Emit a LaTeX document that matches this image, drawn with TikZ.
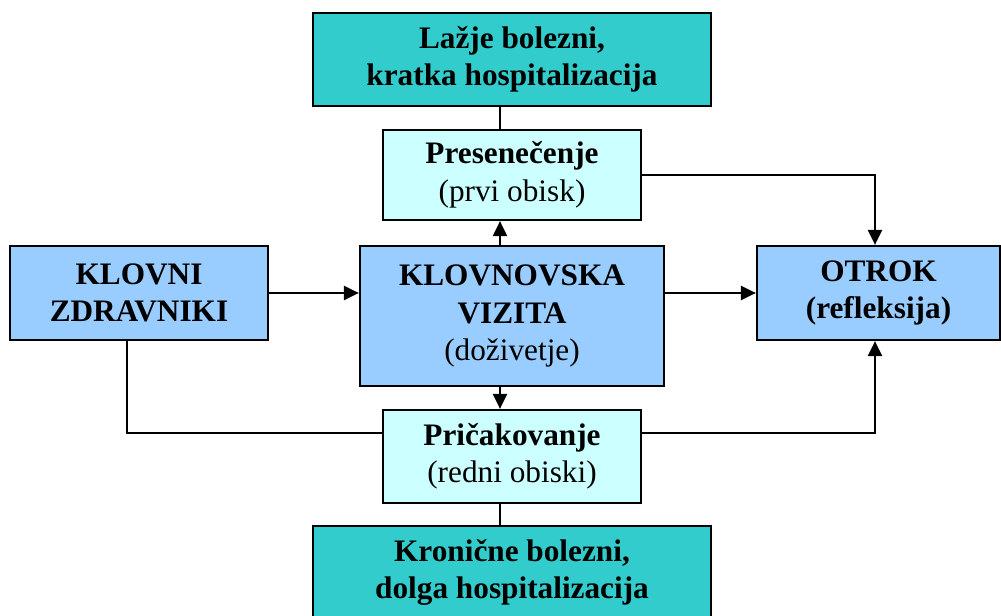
\documentclass[tikz,border=0pt]{standalone}
\usepackage{fontspec}
\setmainfont{Liberation Serif}
\usetikzlibrary{arrows.meta}
\definecolor{skyblue}{HTML}{99CCFF}
\definecolor{paleblue}{HTML}{CCFFFF}
\definecolor{tealbox}{HTML}{33CCCC}
\tikzset{
    box/.style={draw, line width=1.3pt, align=center, inner sep=0pt,
        font=\fontsize{17.8}{21.4}\selectfont},
    mainbox/.style={box, fill=skyblue, font=\fontsize{17.8}{21.4}\selectfont\bfseries},
    stagebox/.style={box, fill=paleblue, minimum width=5.16cm},
    illbox/.style={box, fill=tealbox, minimum width=7.96cm, minimum height=1.86cm,
        font=\fontsize{17.8}{21.4}\selectfont\bfseries},
    link/.style={line width=1.1pt},
    arr/.style={link, -{Triangle[length=8.5pt, width=8pt]}}
}
\begin{document}
\begin{tikzpicture}
    \useasboundingbox (0,0) rectangle (20.02,12.32);
    % boxes
    \node[illbox] (acute) at (10.24, 11.13) {Lažje bolezni,\\kratka hospitalizacija};
    \node[stagebox, minimum height=1.8cm] (surprise) at (10.24, 8.82) {\textbf{Presenečenje}\\(prvi obisk)};
    \node[mainbox, minimum width=5.16cm, minimum height=1.88cm] (clowns) at (2.78, 6.46) {KLOVNI\\ZDRAVNIKI};
    \node[mainbox, minimum width=6.08cm, minimum height=2.8cm] (visit) at (10.24, 6.0) {KLOVNOVSKA\\VIZITA\\\mdseries(doživetje)};
    \node[mainbox, minimum width=4.86cm, minimum height=1.88cm] (child) at (17.57, 6.46) {OTROK\\(refleksija)};
    \node[stagebox, minimum height=1.86cm] (expect) at (10.24, 3.19) {\textbf{Pričakovanje}\\(redni obiski)};
    \node[illbox] (chronic) at (10.24, 0.87) {Kronične bolezni,\\dolga hospitalizacija};
    % connectors
    \draw[arr] (clowns.east) -- (visit.west |- clowns.east);
    \draw[arr] (visit.east |- child.west) -- (child.west);
    \draw[arr] ([xshift=-0.24cm]visit.north) -- ([xshift=-0.24cm]surprise.south);
    \draw[arr] ([xshift=-0.24cm]visit.south) -- ([xshift=-0.24cm]expect.north);
    \draw[link] ([xshift=-0.24cm]acute.south) -- ([xshift=-0.24cm]surprise.north);
    \draw[link] ([xshift=-0.24cm]expect.south) -- ([xshift=-0.24cm]chronic.north);
    \draw[arr] (surprise.east) -| ([xshift=-0.07cm]child.north);
    \draw[arr] ([yshift=0.47cm]expect.east) -| ([xshift=-0.07cm]child.south);
    \draw[link] ([xshift=-0.24cm]clowns.south) |- ([yshift=0.47cm]expect.west);
\end{tikzpicture}
\end{document}
